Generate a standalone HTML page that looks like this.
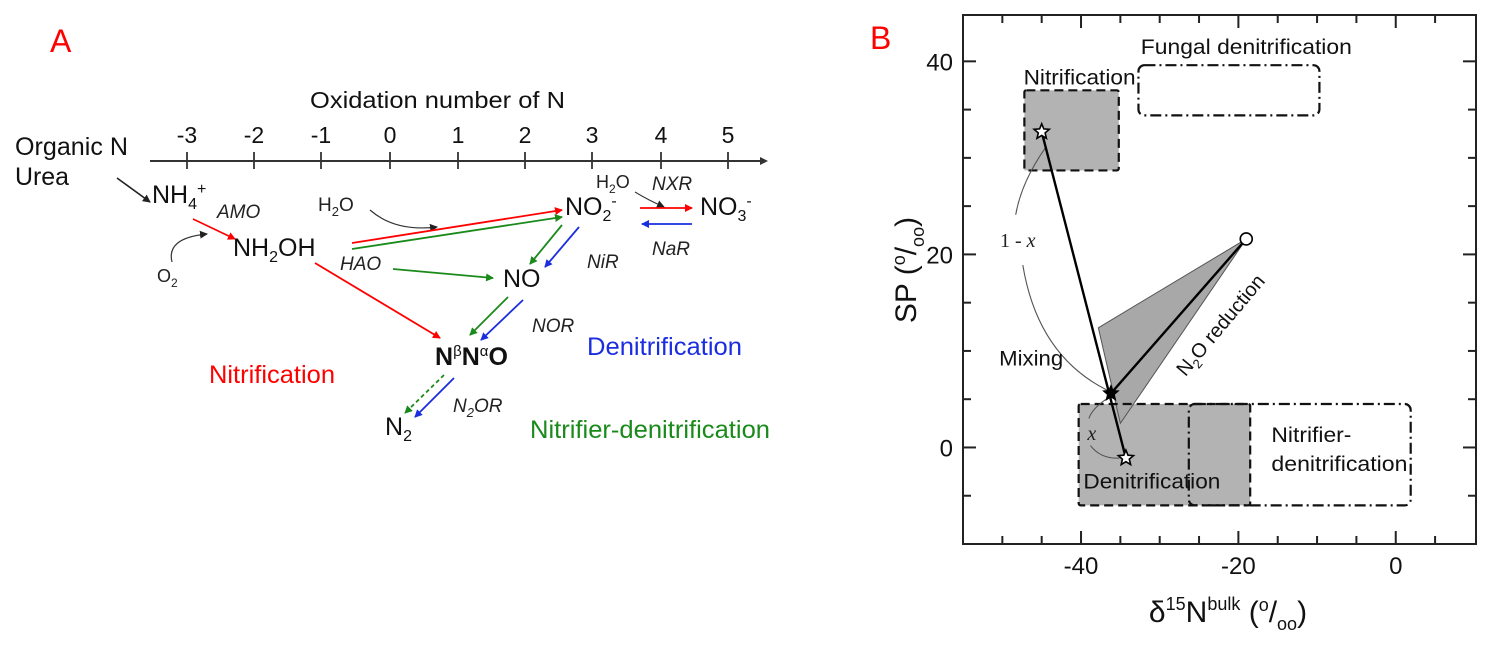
<!DOCTYPE html>
<html><head><meta charset="utf-8"><style>
html,body{margin:0;padding:0;background:#fff;}
svg{display:block;font-family:"Liberation Sans",sans-serif;}
</style></head><body>
<svg id="fig" width="1497" height="662" viewBox="0 0 1497 662">
<defs>
<marker id="ak" markerWidth="8" markerHeight="8" refX="7" refY="4" orient="auto" markerUnits="userSpaceOnUse"><path d="M0,0 L8,4 L0,8 Z" fill="#222"/></marker>
<marker id="ar" markerWidth="8" markerHeight="8" refX="7" refY="4" orient="auto" markerUnits="userSpaceOnUse"><path d="M0,0 L8,4 L0,8 Z" fill="#f00"/></marker>
<marker id="ag" markerWidth="8" markerHeight="8" refX="7" refY="4" orient="auto" markerUnits="userSpaceOnUse"><path d="M0,0 L8,4 L0,8 Z" fill="#1a8a1a"/></marker>
<marker id="ab" markerWidth="8" markerHeight="8" refX="7" refY="4" orient="auto" markerUnits="userSpaceOnUse"><path d="M0,0 L8,4 L0,8 Z" fill="#1a2ee0"/></marker>
</defs>

<g>
<text x="50" y="52" font-size="32" fill="#f00">A</text>
<text x="310" y="108" font-size="23" textLength="255" lengthAdjust="spacingAndGlyphs" fill="#111">Oxidation number of N</text>
<line x1="150" y1="161" x2="762" y2="161" stroke="#333" stroke-width="2"/>
<path d="M760,157 L768,161 L760,165 Z" fill="#333"/>
<g id="oxticks" font-size="23" fill="#111" text-anchor="middle"></g>
<text x="15" y="155" font-size="25" textLength="113" lengthAdjust="spacingAndGlyphs" fill="#111">Organic N</text>
<text x="15" y="185" font-size="25" textLength="54" lengthAdjust="spacingAndGlyphs" fill="#111">Urea</text>
<line x1="117" y1="178" x2="150" y2="202" stroke="#222" stroke-width="1.6" marker-end="url(#ak)"/>
<text x="152" y="203" font-size="25" fill="#111">NH<tspan font-size="16" dy="6">4</tspan><tspan font-size="16" dy="-15">+</tspan></text>
<text x="217" y="218" font-size="19" font-style="italic" fill="#222">AMO</text>
<line x1="193" y1="219" x2="235" y2="239" stroke="#f00" stroke-width="1.6" marker-end="url(#ar)"/>
<text x="157" y="282" font-size="18" fill="#222">O<tspan font-size="12" dy="5">2</tspan></text>
<path d="M172,262 Q166,238 207,234" fill="none" stroke="#333" stroke-width="1.2" marker-end="url(#ak)"/>
<text x="233" y="256" font-size="25" fill="#111">NH<tspan font-size="16" dy="6">2</tspan><tspan dy="-6">OH</tspan></text>
<text x="318" y="211" font-size="19" fill="#222">H<tspan font-size="13" dy="5">2</tspan><tspan dy="-5">O</tspan></text>
<path d="M370,210 Q395,232 437,227" fill="none" stroke="#333" stroke-width="1.2" marker-end="url(#ak)"/>
<line x1="352" y1="243" x2="562" y2="210" stroke="#f00" stroke-width="1.8" marker-end="url(#ar)"/>
<line x1="352" y1="249" x2="562" y2="217" stroke="#1a8a1a" stroke-width="1.8" marker-end="url(#ag)"/>
<text x="565" y="215" font-size="25" fill="#111">NO<tspan font-size="16" dy="6">2</tspan><tspan font-size="16" dy="-15">-</tspan></text>
<text x="596" y="188" font-size="18" fill="#222">H<tspan font-size="12" dy="5">2</tspan><tspan dy="-5">O</tspan></text>
<text x="652" y="190" font-size="19" font-style="italic" fill="#222">NXR</text>
<path d="M635,192 Q648,200 664,207" fill="none" stroke="#333" stroke-width="1.1" marker-end="url(#ak)"/>
<line x1="640" y1="208" x2="692" y2="208" stroke="#f00" stroke-width="1.8" marker-end="url(#ar)"/>
<line x1="692" y1="224" x2="642" y2="224" stroke="#1a2ee0" stroke-width="1.8" marker-end="url(#ab)"/>
<text x="700" y="215" font-size="25" fill="#111">NO<tspan font-size="16" dy="6">3</tspan><tspan font-size="16" dy="-15">-</tspan></text>
<text x="652" y="255" font-size="19" font-style="italic" fill="#222">NaR</text>
<text x="340" y="270" font-size="19" font-style="italic" fill="#222">HAO</text>
<line x1="393" y1="269" x2="493" y2="278" stroke="#1a8a1a" stroke-width="1.8" marker-end="url(#ag)"/>
<text x="503" y="287" font-size="25" fill="#111">NO</text>
<line x1="562" y1="225" x2="530" y2="264" stroke="#1a8a1a" stroke-width="1.8" marker-end="url(#ag)"/>
<line x1="579" y1="227" x2="545" y2="267" stroke="#1a2ee0" stroke-width="1.8" marker-end="url(#ab)"/>
<text x="587" y="268" font-size="19" font-style="italic" fill="#222">NiR</text>
<line x1="315" y1="263" x2="440" y2="338" stroke="#f00" stroke-width="1.8" marker-end="url(#ar)"/>
<line x1="508" y1="297" x2="470" y2="335" stroke="#1a8a1a" stroke-width="1.8" marker-end="url(#ag)"/>
<line x1="523" y1="300" x2="481" y2="340" stroke="#1a2ee0" stroke-width="1.8" marker-end="url(#ab)"/>
<text x="532" y="332" font-size="19" font-style="italic" fill="#222">NOR</text>
<text x="435" y="365" font-size="25" font-weight="bold" fill="#111">N<tspan font-size="15" font-weight="normal" dy="-9">β</tspan><tspan dy="9">N</tspan><tspan font-size="15" font-weight="normal" dy="-9">α</tspan><tspan dy="9">O</tspan></text>
<text x="587" y="355" font-size="25" textLength="155" lengthAdjust="spacingAndGlyphs" fill="#1a2ee0">Denitrification</text>
<text x="209" y="383" font-size="25" textLength="126" lengthAdjust="spacingAndGlyphs" fill="#f00">Nitrification</text>
<line x1="444" y1="375" x2="405" y2="413" stroke="#1a8a1a" stroke-width="1.8" stroke-dasharray="4,3" marker-end="url(#ag)"/>
<line x1="454" y1="378" x2="415" y2="417" stroke="#1a2ee0" stroke-width="1.8" marker-end="url(#ab)"/>
<text x="453" y="412" font-size="19" font-style="italic" fill="#222">N<tspan font-size="13" dy="5">2</tspan><tspan dy="-5">OR</tspan></text>
<text x="385" y="435" font-size="25" fill="#111">N<tspan font-size="16" dy="6">2</tspan></text>
<text x="530" y="438" font-size="25" textLength="240" lengthAdjust="spacingAndGlyphs" fill="#1a8a1a">Nitrifier-denitrification</text>
</g>

<g>
<text x="870" y="49" font-size="32" fill="#f00">B</text>
<g id="plotB"></g>
<text transform="translate(916,270) rotate(-90)" font-size="30" text-anchor="middle" fill="#111">SP (<tspan font-size="18" dy="-11">o</tspan><tspan dy="11">/</tspan><tspan font-size="18" dy="8">oo</tspan><tspan dy="-8">)</tspan></text>
<text x="1228" y="622" font-size="30" text-anchor="middle" fill="#111">δ<tspan font-size="18" dy="-12">15</tspan><tspan dy="12">N</tspan><tspan font-size="18" dy="-12">bulk</tspan><tspan dy="12"> (</tspan><tspan font-size="18" dy="-11">o</tspan><tspan dy="11">/</tspan><tspan font-size="18" dy="8">oo</tspan><tspan dy="-8">)</tspan></text>
</g>
</svg>
<script>
const oxNumbers = [-3,-2,-1,0,1,2,3,4,5];
const oxPos = [187,254,321,390,458,525,592,661,728];

const xTicks = [-40,-20,0];
const yTicks = [0,20,40];
const boxNames = ["nitrification-box","fungal-denitrification-box","denitrification-box","nitrifier-denitrification-box"];
const boxX0 = [-47.2,-32.7,-40.3,-26.3];
const boxX1 = [-35.2,-9.7,-18.5,1.9];
const boxY0 = [28.7,34.4,-6.0,-6.0];
const boxY1 = [37.0,39.6,4.5,4.5];
const boxFilled = [true,false,true,false];
const nitStar = [-45.0,32.7];
const denStar = [-34.3,-1.1];
const mixStar = [-36.2,5.6];
const reducedPoint = [-19.0,21.6];
const wedgeX = [-37.8,-19.0,-35.0];
const wedgeY = [12.4,21.6,2.5];

(function(){
  const NS="http://www.w3.org/2000/svg";
  const tg=document.getElementById('oxticks');
  oxNumbers.forEach((n,i)=>{
    const l=document.createElementNS(NS,'line');
    l.setAttribute('x1',oxPos[i]);l.setAttribute('x2',oxPos[i]);l.setAttribute('y1',152);l.setAttribute('y2',169);
    l.setAttribute('stroke','#333');l.setAttribute('stroke-width','1.8');
    
    
    tg.appendChild(l);
    const t=document.createElementNS(NS,'text');
    t.setAttribute('x',oxPos[i]);t.setAttribute('y',143);t.textContent=String(n);
    
    
    tg.appendChild(t);
  });

  const g=document.getElementById('plotB');
  const X0=-55.0,X1=10.2,Y0=-10.0,Y1=44.8;
  const PL=963,PR=1476,PT=15,PB=544;
  const sx=v=>PL+(v-X0)/(X1-X0)*(PR-PL);
  const sy=v=>PB-(v-Y0)/(Y1-Y0)*(PB-PT);
  function el(tag,attrs){const e=document.createElementNS(NS,tag);for(const k in attrs)e.setAttribute(k,attrs[k]);g.appendChild(e);return e;}
  boxNames.forEach((n,i)=>{
    if(!boxFilled[i])return;
    const r=el('rect',{x:sx(boxX0[i]),y:sy(boxY1[i]),width:sx(boxX1[i])-sx(boxX0[i]),height:sy(boxY0[i])-sy(boxY1[i]),fill:'#b3b3b3'});
    
    
  });
  const wp=wedgeX.map((x,i)=>sx(x)+','+sy(wedgeY[i])).join(' ');
  const w=el('polygon',{points:wp,fill:'#a8a8a8',stroke:'#555','stroke-width':1});
  
  
  boxNames.forEach((n,i)=>{
    const dash=boxFilled[i]?'9,5':'11,4,2,4';
    const r=el('rect',{x:sx(boxX0[i]),y:sy(boxY1[i]),width:sx(boxX1[i])-sx(boxX0[i]),height:sy(boxY0[i])-sy(boxY1[i]),fill:'none',stroke:'#111','stroke-width':2.2,'stroke-dasharray':dash,rx:boxFilled[i]?2:6});
    
    
  });
  const arc1=el('path',{d:`M${sx(-44.4)},${sy(31.2)} Q${sx(-47.6)},${sy(27.5)} ${sx(-48.3)},${sy(24.1)}`,fill:'none',stroke:'#555','stroke-width':1.1});
  
  
  const arc2=el('path',{d:`M${sx(-47.4)},${sy(18.9)} Q${sx(-45.5)},${sy(9.5)} ${sx(-36.6)},${sy(5.9)}`,fill:'none',stroke:'#555','stroke-width':1.1});
  
  
  const arc3=el('path',{d:`M${sx(-36.8)},${sy(5.0)} Q${sx(-38.6)},${sy(4.0)} ${sx(-39.0)},${sy(3.0)}`,fill:'none',stroke:'#555','stroke-width':1.1});
  
  
  const arc4=el('path',{d:`M${sx(-38.8)},${sy(0.2)} Q${sx(-37.5)},${sy(-1.2)} ${sx(-35.1)},${sy(-1.1)}`,fill:'none',stroke:'#555','stroke-width':1.1});
  
  
  const l1=el('line',{x1:sx(nitStar[0]),y1:sy(nitStar[1]),x2:sx(denStar[0]),y2:sy(denStar[1]),stroke:'#000','stroke-width':2.4});
  
  
  const l2=el('line',{x1:sx(mixStar[0]),y1:sy(mixStar[1]),x2:sx(reducedPoint[0]),y2:sy(reducedPoint[1]),stroke:'#000','stroke-width':2.4});
  
  
  function starPts(cx,cy,R){const r=R*0.45;let p=[];for(let k=0;k<10;k++){const a=-Math.PI/2+k*Math.PI/5;const rr=k%2?r:R;p.push((cx+rr*Math.cos(a)).toFixed(1)+','+(cy+rr*Math.sin(a)).toFixed(1));}return p.join(' ');}
  const s1=el('polygon',{points:starPts(sx(nitStar[0]),sy(nitStar[1]),8),fill:'#fff',stroke:'#000','stroke-width':1.6});
  
  
  const s2=el('polygon',{points:starPts(sx(denStar[0]),sy(denStar[1]),8),fill:'#fff',stroke:'#000','stroke-width':1.6});
  
  
  const s3=el('polygon',{points:starPts(sx(mixStar[0]),sy(mixStar[1]),8),fill:'#000',stroke:'#000','stroke-width':1});
  
  
  const c=el('circle',{cx:sx(reducedPoint[0]),cy:sy(reducedPoint[1]),r:6,fill:'#fff',stroke:'#000','stroke-width':1.6});
  
  
  const fr=el('rect',{x:PL,y:PT,width:PR-PL,height:PB-PT,fill:'none',stroke:'#222','stroke-width':2});
  
  
  for(let v=-50;v<=5;v+=5){
    const major=xTicks.indexOf(v)>=0;const L=major?13:8;
    const a=el('line',{x1:sx(v),x2:sx(v),y1:PB,y2:PB-L,stroke:'#222','stroke-width':2});
    
    
    const b=el('line',{x1:sx(v),x2:sx(v),y1:PT,y2:PT+L,stroke:'#222','stroke-width':2});
    
    
  }
  for(let v=-5;v<=40;v+=5){
    const major=yTicks.indexOf(v)>=0;const L=major?13:8;
    const a=el('line',{x1:PL,x2:PL+L,y1:sy(v),y2:sy(v),stroke:'#222','stroke-width':2});
    
    
    const b=el('line',{x1:PR,x2:PR-L,y1:sy(v),y2:sy(v),stroke:'#222','stroke-width':2});
    
    
  }
  xTicks.forEach(v=>{
    const t=el('text',{x:sx(v),y:574,'font-size':24,'text-anchor':'middle',fill:'#111'});
    t.textContent=String(v);
    
    
  });
  yTicks.forEach(v=>{
    const t=el('text',{x:PL-10,y:sy(v)+9,'font-size':24,'text-anchor':'end',fill:'#111'});
    t.textContent=String(v);
    
    
  });
  function lab(txt,x,y,len,name){const t=el('text',{x:sx(x),y:sy(y)+7,'font-size':21,fill:'#111',textLength:len,lengthAdjust:'spacingAndGlyphs'});t.textContent=txt;return t;}
  lab('Fungal denitrification',-32.4,41.5,211,'fungal-denitrification-label');
  lab('Nitrification',-47.3,38.3,112,'nitrification-label');
  lab('Mixing',-50.4,9.2,64,'mixing-label');
  lab('Denitrification',-39.7,-3.5,137,'denitrification-label');
  lab('Nitrifier-',-15.8,1.3,80,'nitrifier-label');
  lab('denitrification',-15.8,-1.7,136,'nitrifier-denitrification-label');
  const ox=el('text',{x:sx(-50.3),y:sy(21.5)+7,'font-size':20,fill:'#222','font-family':'Liberation Serif, serif'});
  ox.innerHTML='1 - <tspan font-style="italic">x</tspan>';
  
  
  const xx=el('text',{x:sx(-39.2),y:sy(1.5)+7,'font-size':20,fill:'#222','font-style':'italic','font-family':'Liberation Serif, serif'});
  xx.textContent='x';
  
  
  const rd=el('text',{transform:`translate(${sx(-22.3)},${sy(12.7)}) rotate(-50)`,'font-size':20,'text-anchor':'middle',fill:'#111',y:7});
  rd.innerHTML='N<tspan font-size="13" dy="5">2</tspan><tspan dy="-5">O reduction</tspan>';
  
  
})();
</script>
</body></html>
